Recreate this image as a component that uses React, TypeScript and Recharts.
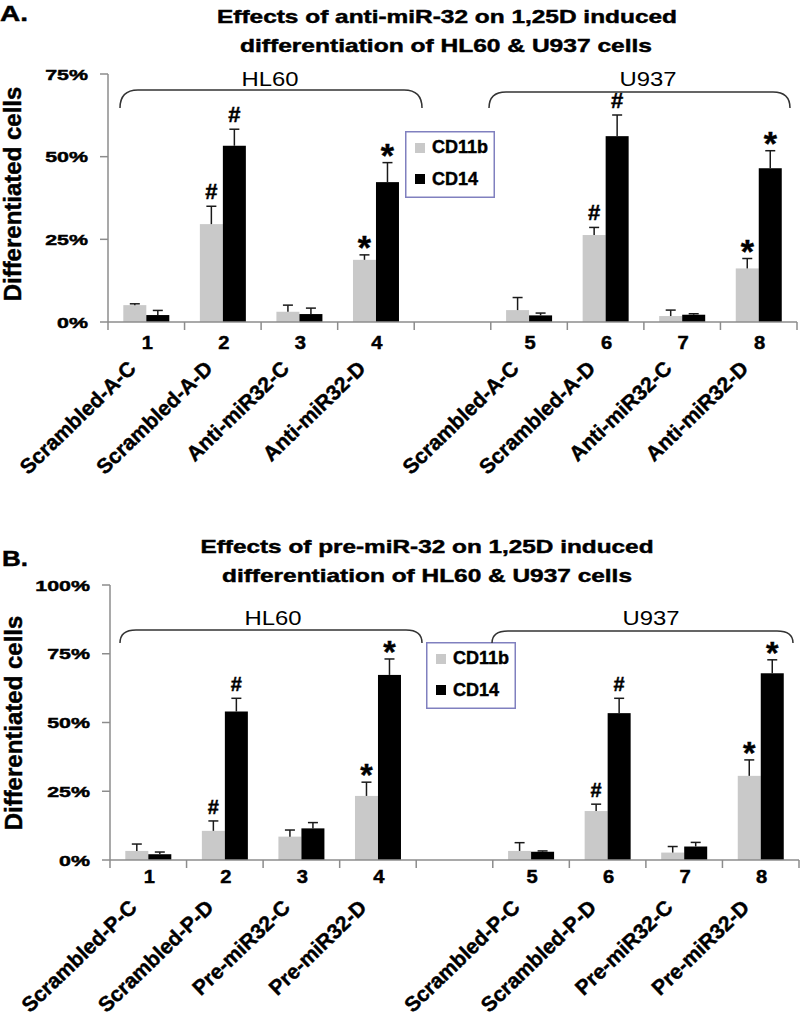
import React from "react";
import { BarChart, Bar, XAxis, YAxis, Legend } from "recharts";

// ---- data ----
const slots = ["1", "2", "3", "4", "gap", "5", "6", "7", "8"];
const tickNums = ["1", "2", "3", "4", "", "5", "6", "7", "8"];
const marks = ["", "#", "", "*", "", "", "#", "", "*"];

const namesA = ["Scrambled-A-C", "Scrambled-A-D", "Anti-miR32-C", "Anti-miR32-D", "", "Scrambled-A-C", "Scrambled-A-D", "Anti-miR32-C", "Anti-miR32-D"];
const cd11bA = [5.1, 29.6, 3.1, 18.8, null, 3.6, 26.3, 1.8, 16.2];
const cd11bErrA = [0.4, 5.4, 2.0, 1.5, null, 3.8, 2.3, 1.8, 3.0];
const cd14A = [2.1, 53.3, 2.4, 42.3, null, 2.0, 56.2, 2.2, 46.5];
const cd14ErrA = [1.4, 5.0, 1.8, 5.9, null, 0.7, 6.4, 0.3, 5.3];
const ticksA = [0, 25, 50, 75];

const namesB = ["Scrambled-P-C", "Scrambled-P-D", "Pre-miR32-C", "Pre-miR32-D", "", "Scrambled-P-C", "Scrambled-P-D", "Pre-miR32-C", "Pre-miR32-D"];
const cd11bB = [3.3, 10.6, 8.5, 23.3, null, 3.3, 17.8, 2.7, 30.6];
const cd11bErrB = [2.5, 3.6, 2.4, 5.0, null, 3.0, 2.5, 2.2, 5.8];
const cd14B = [2.1, 54.0, 11.5, 67.3, null, 3.0, 53.4, 4.9, 67.9];
const cd14ErrB = [0.8, 4.8, 2.1, 5.8, null, 0.3, 5.4, 1.5, 4.9];
const ticksB = [0, 25, 50, 75, 100];

const rowsA = slots.map((s, i) => ({
  slot: s, cd11b: cd11bA[i], cd11bErr: cd11bErrA[i], cd14: cd14A[i], cd14Err: cd14ErrA[i], mark: marks[i],
}));
const rowsB = slots.map((s, i) => ({
  slot: s, cd11b: cd11bB[i], cd11bErr: cd11bErrB[i], cd14: cd14B[i], cd14Err: cd14ErrB[i], mark: marks[i],
}));

const FONT = '"Liberation Sans", Arial, Helvetica, sans-serif';
const AXIS = "#8c8c8c";
const GRAY = "#c9c9c9";
const PLOT_W = 689;
const HALF = PLOT_W / slots.length / 2;
// the source is a bit heavier than plain bold
const HEAVY = { stroke: "#000", strokeWidth: 0.45 };

// text stretched horizontally like the source image
function SText({ x, y, sx = 1, children, ...rest }: any) {
  return (
    <text transform={`translate(${x},${y}) scale(${sx},1)`} fontFamily={FONT} fill="#000" {...rest}>
      {children}
    </text>
  );
}

const makeShape = (key: string, errKey: string, fill: string, hashSize: number, starSize: number) => (props: any) => {
  const { x, y, width, height, payload } = props;
  const v = payload[key];
  if (v == null || !height) return null;
  const ppu = height / v;
  const cx = x + width / 2;
  const top = y - payload[errKey] * ppu;
  const m = payload.mark;
  return (
    <g>
      <rect x={x} y={y} width={width} height={height} fill={fill} />
      <line x1={cx} y1={y} x2={cx} y2={top} stroke="#1a1a1a" strokeWidth={1.5} />
      <line x1={cx - 5} y1={top} x2={cx + 5} y2={top} stroke="#1a1a1a" strokeWidth={1.5} />
      {m === "#" && (
        <text x={cx} y={top - 7} textAnchor="middle" fontFamily={FONT} fontWeight="bold" fontSize={hashSize} {...HEAVY}>#</text>
      )}
      {m === "*" && (
        <text x={cx} y={top + 4} textAnchor="middle" fontFamily={FONT} fontWeight="bold" fontSize={starSize} {...HEAVY}>*</text>
      )}
    </g>
  );
};

const makeXTick = (names: string[], numDy: number, labelDx: number, labelDy: number) => (props: any) => {
  const { x, y, index } = props;
  return (
    <g>
      <line x1={x - HALF} y1={y} x2={x - HALF} y2={y + 8} stroke={AXIS} strokeWidth={1.5} />
      {index === slots.length - 1 && (
        <line x1={x + HALF} y1={y} x2={x + HALF} y2={y + 8} stroke={AXIS} strokeWidth={1.5} />
      )}
      <SText x={x + 1} y={y + numDy} sx={1.12} textAnchor="middle" fontSize={18} fontWeight="bold" {...HEAVY}>
        {tickNums[index]}
      </SText>
      <text
        transform={`translate(${x + labelDx},${y + labelDy}) rotate(-44)`}
        textAnchor="end" fontFamily={FONT} fontWeight="bold" fontSize={21} fill="#000" {...HEAVY}
      >
        {names[index]}
      </text>
    </g>
  );
};

const YTick = (props: any) => {
  const { x, y, payload } = props;
  return (
    <SText x={x} y={y + 5.5} sx={1.38} textAnchor="end" fontSize={15.5} fontWeight="bold" {...HEAVY}>
      {payload.value}%
    </SText>
  );
};

const LegendBox = () => (
  <svg width={90} height={67} style={{ display: "block" }}>
    <rect x={0.75} y={0.75} width={88.5} height={65.5} fill="#fff" stroke="#8080bf" strokeWidth={1.5} />
    <rect x={10} y={12} width={10} height={10} fill={GRAY} />
    <text x={27} y={22} fontFamily={FONT} fontWeight="bold" fontSize={18} {...HEAVY}>CD11b</text>
    <rect x={10} y={43} width={10} height={10} fill="#000" />
    <text x={27} y={54} fontFamily={FONT} fontWeight="bold" fontSize={18} {...HEAVY}>CD14</text>
  </svg>
);

function Panel({ rows, names, ticks, max, height, top, plotTop, plotH, yWidth, right, numDy, labelDx, labelDy, legendPos, hashSize, starSize }: any) {
  return (
    <div style={{ position: "absolute", left: 0, top }}>
      <BarChart
        width={800} height={height} data={rows}
        margin={{ top: plotTop, right, bottom: 0, left: 0 }}
        barCategoryGap="20%" barGap={0}
      >
        <XAxis
          dataKey="slot" interval={0} height={height - plotTop - plotH}
          axisLine={{ stroke: AXIS, strokeWidth: 1.5 }} tickLine={false} tickSize={0} tickMargin={0}
          tick={makeXTick(names, numDy, labelDx, labelDy)}
        />
        <YAxis
          type="number" domain={[0, max]} ticks={ticks} width={yWidth} interval={0}
          axisLine={{ stroke: AXIS, strokeWidth: 1.5 }} tickLine={{ stroke: AXIS, strokeWidth: 1.5 }}
          tickSize={8} tickMargin={12} tick={YTick}
        />
        <Legend
          layout="vertical" align="center" verticalAlign="middle"
          wrapperStyle={{ left: legendPos[0], top: legendPos[1], width: 90, height: 67 }}
          content={LegendBox}
        />
        <Bar dataKey="cd11b" fill={GRAY} isAnimationActive={false} shape={makeShape("cd11b", "cd11bErr", GRAY, hashSize, starSize)} />
        <Bar dataKey="cd14" fill="#000" isAnimationActive={false} shape={makeShape("cd14", "cd14Err", "#000", hashSize, starSize)} />
      </BarChart>
    </div>
  );
}

export default function App() {
  const bracket = "#333";
  return (
    <div style={{ position: "absolute", left: 0, top: 0, width: 800, height: 1019, background: "#fff", overflow: "hidden" }}>
      {/* panel A: plot 108..797 x 74..322 */}
      <Panel
        rows={rowsA} names={namesA} ticks={ticksA} max={75} height={490} top={0} plotTop={74} plotH={248}
        yWidth={108} right={3} numDy={27} labelDx={-9} labelDy={48}
        legendPos={[405, 131]} hashSize={22} starSize={34}
      />
      {/* panel B: plot 110..799 x 585..860 */}
      <Panel
        rows={rowsB} names={namesB} ticks={ticksB} max={100} height={529} top={490} plotTop={95} plotH={275}
        yWidth={110} right={1} numDy={23} labelDx={-10} labelDy={49}
        legendPos={[426, 152]} hashSize={20} starSize={32}
      />

      <svg width={800} height={1019} style={{ position: "absolute", left: 0, top: 0, pointerEvents: "none" }}>
        <g fontFamily={FONT} fill="#000">
          {/* A */}
          <text x={0} y={21} fontWeight="bold" fontSize={22} textLength={28} lengthAdjust="spacingAndGlyphs" {...HEAVY}>A.</text>
          <text x={447} y={23} textAnchor="middle" fontWeight="bold" fontSize={18.5} textLength={460} lengthAdjust="spacingAndGlyphs" {...HEAVY}>
            Effects of anti-miR-32 on 1,25D induced
          </text>
          <text x={446} y={52} textAnchor="middle" fontWeight="bold" fontSize={18.5} textLength={412} lengthAdjust="spacingAndGlyphs" {...HEAVY}>
            differentiation of HL60 &amp; U937 cells
          </text>
          <text transform="translate(21,194) rotate(-90)" textAnchor="middle" fontWeight="bold" fontSize={24} {...HEAVY}>
            Differentiated cells
          </text>
          <path d="M120,108 Q120,90 138,90 L404,90 Q422,90 422,108" fill="none" stroke={bracket} strokeWidth={1.5} />
          <path d="M489,108 Q489,92 506,92 L773,92 Q790,92 790,108" fill="none" stroke={bracket} strokeWidth={1.5} />
          <text x={270} y={86} textAnchor="middle" fontSize={19.5} textLength={57} lengthAdjust="spacingAndGlyphs">HL60</text>
          <text x={648} y={86} textAnchor="middle" fontSize={19.5} textLength={57} lengthAdjust="spacingAndGlyphs">U937</text>

          {/* B */}
          <text x={2} y={566} fontWeight="bold" fontSize={22} textLength={26} lengthAdjust="spacingAndGlyphs" {...HEAVY}>B.</text>
          <text x={427} y={553} textAnchor="middle" fontWeight="bold" fontSize={18.5} textLength={453} lengthAdjust="spacingAndGlyphs" {...HEAVY}>
            Effects of pre-miR-32 on 1,25D induced
          </text>
          <text x={427} y={582} textAnchor="middle" fontWeight="bold" fontSize={18.5} textLength={410} lengthAdjust="spacingAndGlyphs" {...HEAVY}>
            differentiation of HL60 &amp; U937 cells
          </text>
          <text transform="translate(22,723) rotate(-90)" textAnchor="middle" fontWeight="bold" fontSize={24} {...HEAVY}>
            Differentiated cells
          </text>
          <path d="M120,643 Q120,630 136,630 L406,630 Q422,630 422,643" fill="none" stroke={bracket} strokeWidth={1.5} />
          <path d="M492,643 Q492,631 508,631 L777,631 Q793,631 793,643" fill="none" stroke={bracket} strokeWidth={1.5} />
          <text x={273} y={625} textAnchor="middle" fontSize={19.5} textLength={57} lengthAdjust="spacingAndGlyphs">HL60</text>
          <text x={651} y={625} textAnchor="middle" fontSize={19.5} textLength={57} lengthAdjust="spacingAndGlyphs">U937</text>
        </g>
      </svg>
    </div>
  );
}
